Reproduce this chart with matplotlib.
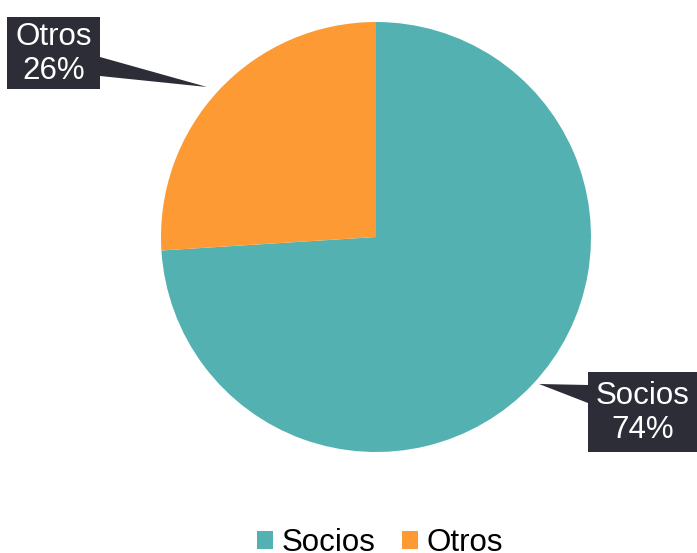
import matplotlib
matplotlib.use("Agg")
import matplotlib.pyplot as plt
from matplotlib.patches import Rectangle, Polygon

labels = ["Socios", "Otros"]
values = [74, 26]
colors = ["#53b1b1", "#fd9a33"]

plt.rcParams['font.family'] = ['Liberation Sans', 'DejaVu Sans']

W, H = 697, 553
fig = plt.figure(figsize=(W / 100, H / 100), dpi=100)
ax = fig.add_axes([0, 0, 1, 1])

# pie in pixel space (y inverted, so counterclock=True draws clockwise on screen)
wedges, _ = ax.pie(values, colors=colors, startangle=-90, counterclock=True,
                   center=(376, 237), radius=215, frame=True,
                   wedgeprops={"linewidth": 0})
ax.set_xlim(0, W)
ax.set_ylim(H, 0)
ax.set_aspect("equal")
ax.axis("off")

box_color = "#2d2d38"

def callout(box, tri, text):
    x0, y0, x1, y1 = box
    ax.add_patch(Polygon(tri, closed=True, color=box_color, lw=0, zorder=3))
    ax.add_patch(Rectangle((x0, y0), x1 - x0, y1 - y0, color=box_color, lw=0, zorder=3))
    ax.text((x0 + x1) / 2, (y0 + y1) / 2 + 1, text, color="white", fontsize=22.5,
            ha="center", va="center", multialignment="center",
            linespacing=1.15, zorder=4)

callout((7, 17, 100, 89), [(100, 57), (100, 76), (207, 87)],
        "%s\n%d%%" % (labels[1], values[1]))
callout((588, 372, 697, 452), [(588, 385), (588, 403), (539, 384)],
        "%s\n%d%%" % (labels[0], values[0]))

fig.legend(wedges, labels, loc="center", bbox_to_anchor=(380 / W, 1 - 543 / H),
           ncol=2, frameon=False, fontsize=22.5, handlelength=0.52,
           handleheight=0.52, handletextpad=0.26, columnspacing=0.85,
           borderaxespad=0, borderpad=0)

plt.savefig("out.png", dpi=100)
